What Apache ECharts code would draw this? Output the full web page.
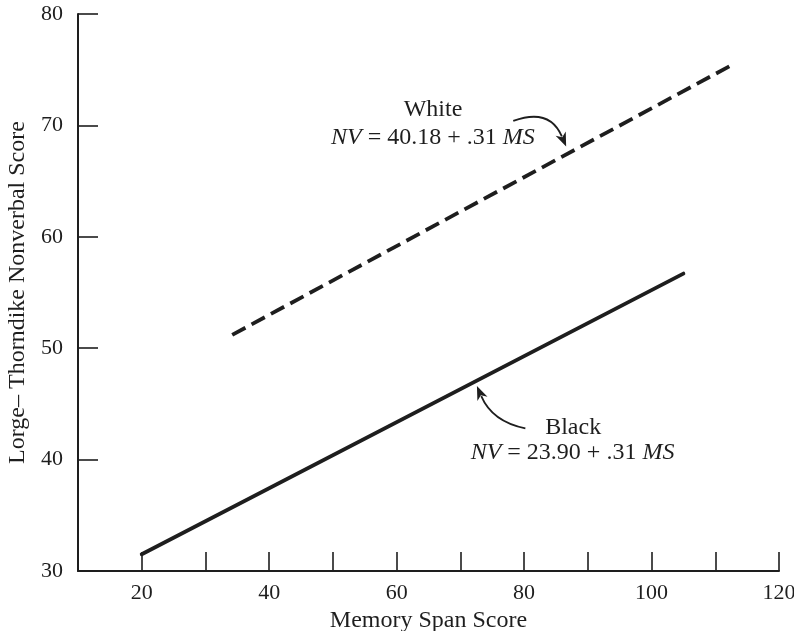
<!DOCTYPE html>
<html>
<head>
<meta charset="utf-8">
<script src="https://cdn.jsdelivr.net/npm/echarts@6/dist/echarts.min.js"></script>
<style>
html,body{margin:0;padding:0;background:#fff;}
#chart{width:794px;height:631px;}
</style>
</head>
<body>
<div id="chart"></div>
<script>
// ---- data ----
const xAxisName = 'Memory Span Score';
const yAxisName = 'Lorge\u2013 Thorndike Nonverbal Score';
const xLabelValues = [20, 40, 60, 80, 100, 120];
const blackX = [20, 105];
const blackY = [31.5, 56.7];
const whiteX = [34.2, 112.2];
const whiteY = [51.2, 75.3];
const whiteLabel = 'White';
const whiteEq = ['NV', ' = 40.18 + .31 ', 'MS'];
const blackLabel = 'Black';
const blackEq = ['NV', ' = 23.90 + .31 ', 'MS'];

const FONT = '"Liberation Serif", "DejaVu Serif", serif';
const INK = '#1e1e1e';

const chart = echarts.init(document.getElementById('chart'));

function pairs(xs, ys) { return xs.map((x, i) => [x, ys[i]]); }

chart.setOption({
  backgroundColor: '#fff',
  animation: false,
  grid: { left: 78, right: 15, top: 14, bottom: 60, containLabel: false, outerBoundsMode: 'none' },
  xAxis: {
    type: 'value', min: 10, max: 120, interval: 10,
    name: xAxisName, nameLocation: 'middle', nameGap: 38, nameMoveOverlap: false,
    nameTextStyle: { fontFamily: FONT, fontSize: 24, color: INK },
    axisLine: { show: true, onZero: false, lineStyle: { color: INK, width: 2 } },
    axisTick: { show: true, inside: true, length: 19, lineStyle: { color: INK, width: 1.6 } },
    axisLabel: {
      margin: 11, fontFamily: FONT, fontSize: 22, color: INK,
      formatter: v => xLabelValues.indexOf(v) >= 0 ? String(v) : ''
    },
    splitLine: { show: false }
  },
  yAxis: {
    type: 'value', min: 30, max: 80, interval: 10,
    name: yAxisName, nameLocation: 'middle', nameGap: 48, nameRotate: 90, nameMoveOverlap: false,
    nameTextStyle: { fontFamily: FONT, fontSize: 24, color: INK },
    axisLine: { show: true, onZero: false, lineStyle: { color: INK, width: 2 } },
    axisTick: { show: true, inside: true, length: 20, lineStyle: { color: INK, width: 1.6 } },
    axisLabel: { margin: 15, fontFamily: FONT, fontSize: 22, color: INK },
    splitLine: { show: false }
  },
  series: [
    {
      name: 'Black', type: 'line', data: pairs(blackX, blackY),
      showSymbol: false, symbol: 'none',
      lineStyle: { color: INK, width: 3.8, cap: 'round' }
    },
    {
      name: 'White', type: 'line', data: pairs(whiteX, whiteY),
      showSymbol: false, symbol: 'none',
      lineStyle: { color: INK, width: 3.8, type: [15, 7] }
    }
  ]
});

function P(x, y) { return chart.convertToPixel({ gridIndex: 0 }, [x, y]); }

function eqText(parts, center) {
  return {
    type: 'text', x: center[0], y: center[1],
    style: {
      text: '{i|' + parts[0] + '}{n|' + parts[1] + '}{i|' + parts[2] + '}',
      align: 'center', verticalAlign: 'middle',
      rich: {
        i: { fontFamily: FONT, fontSize: 24, fontStyle: 'italic', fill: INK },
        n: { fontFamily: FONT, fontSize: 24, fill: INK }
      }
    }
  };
}
function plainText(t, center) {
  return {
    type: 'text', x: center[0], y: center[1],
    style: { text: t, fontFamily: FONT, fontSize: 24, fill: INK, align: 'center', verticalAlign: 'middle' }
  };
}
function arrow(a, c, b) {
  const dx = b[0] - c[0], dy = b[1] - c[1];
  const L = Math.hypot(dx, dy);
  const ux = dx / L, uy = dy / L;
  const hl = 14, hw = 5.5;
  const bx = b[0] - ux * hl, by = b[1] - uy * hl;
  return [
    {
      type: 'bezierCurve',
      shape: { x1: a[0], y1: a[1], x2: bx + ux * 3, y2: by + uy * 3, cpx1: c[0], cpy1: c[1] },
      style: { stroke: INK, lineWidth: 1.8, fill: null }
    },
    {
      type: 'polygon',
      shape: { points: [b, [bx - uy * hw, by + ux * hw], [bx + ux * 4, by + uy * 4], [bx + uy * hw, by - ux * hw]] },
      style: { fill: INK }
    }
  ];
}

const g = [];
g.push(plainText(whiteLabel, P(65.7, 71.4)));
g.push(eqText(whiteEq, P(65.7, 68.9)));
g.push(plainText(blackLabel, P(87.7, 42.9)));
g.push(eqText(blackEq, P(87.6, 40.6)));
g.push(...arrow(P(78.3, 70.4), P(84.0, 71.6), P(86.6, 68.1)));
g.push(...arrow(P(80.2, 42.8), P(75.0, 43.4), P(72.6, 46.6)));

chart.setOption({ graphic: g });
</script>
</body>
</html>
